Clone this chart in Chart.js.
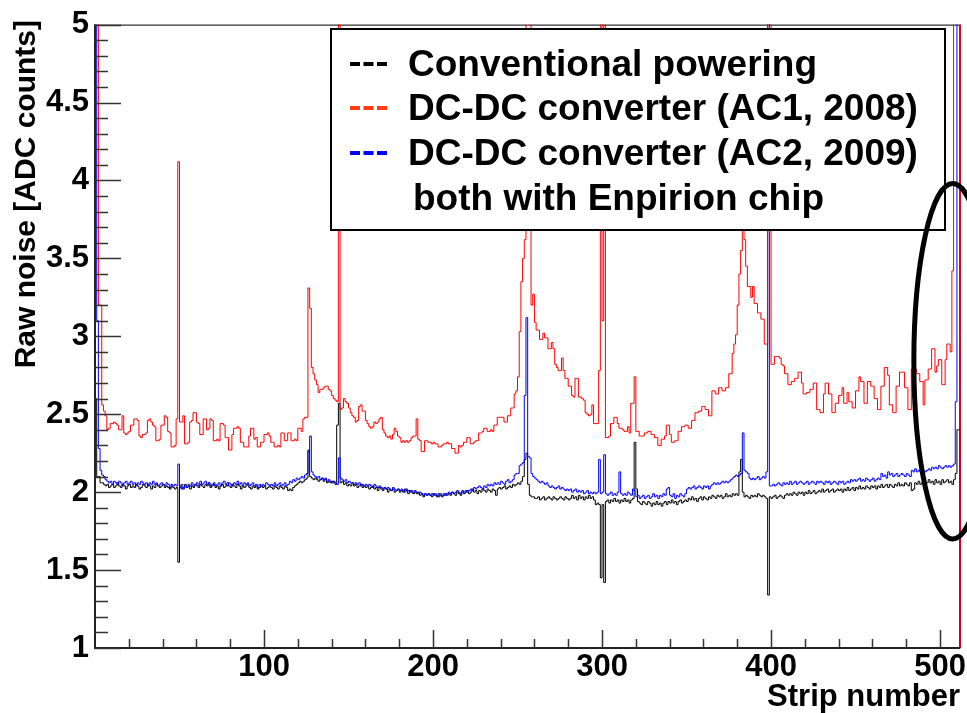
<!DOCTYPE html>
<html>
<head>
<meta charset="utf-8">
<script src="https://cdn.jsdelivr.net/npm/chart.js@4.4.1/dist/chart.umd.min.js"></script>
<style>
  html, body { margin: 0; padding: 0; background: #fff; }
</style>
</head>
<body>
<canvas id="myChart" width="967" height="713"></canvas>
<script>
var FONT = "'Liberation Sans', Arial, Helvetica, sans-serif";

var xTitle = 'Strip number';
var yTitle = 'Raw noise [ADC counts]';
var seriesNames = ['Conventional powering', 'DC-DC converter (AC1, 2008)', 'DC-DC converter (AC2, 2009)'];
var legendNote = 'both with Enpirion chip';
var xLabelTicks = [100, 200, 300, 400, 500];
var yLabelTicks = [1, 1.5, 2, 2.5, 3, 3.5, 4, 4.5, 5];

// raw noise per strip, strips 1..512
var conventional = [
  2.60, 2.10, 2.10, 2.06, 2.06, 2.05, 2.04, 2.05, 2.03, 2.04,
  2.05, 2.03, 2.04, 2.06, 2.04, 2.03, 2.05, 2.04, 2.02, 2.04,
  2.05, 2.03, 2.04, 2.03, 2.05, 2.04, 2.02, 2.03, 2.05, 2.04,
  2.03, 2.05, 2.04, 2.02, 2.04, 2.03, 2.05, 2.04, 2.03, 2.04,
  2.05, 2.03, 2.04, 2.03, 2.02, 2.04, 2.03, 2.02, 2.03, 1.55,
  2.04, 2.02, 2.03, 2.05, 2.03, 2.04, 2.02, 2.04, 2.03, 2.05,
  2.04, 2.03, 2.05, 2.04, 2.03, 2.05, 2.04, 2.06, 2.03, 2.04,
  2.05, 2.03, 2.04, 2.02, 2.04, 2.05, 2.03, 2.04, 2.06, 2.04,
  2.03, 2.05, 2.04, 2.03, 2.05, 2.04, 2.02, 2.04, 2.03, 2.04,
  2.05, 2.03, 2.02, 2.04, 2.03, 2.04, 2.02, 2.03, 2.04, 2.03,
  2.04, 2.02, 2.03, 2.04, 2.03, 2.02, 2.04, 2.03, 2.02, 2.04,
  2.03, 2.02, 2.04, 2.03, 2.01, 2.02, 2.01, 2.03, 2.04, 2.05,
  2.06, 2.07, 2.06, 2.07, 2.08, 2.09, 2.27, 2.10, 2.09, 2.08,
  2.09, 2.08, 2.07, 2.08, 2.09, 2.07, 2.08, 2.06, 2.07, 2.06,
  2.07, 2.06, 2.05, 2.43, 2.57, 2.06, 2.07, 2.05, 2.06, 2.04,
  2.05, 2.04, 2.06, 2.04, 2.05, 2.03, 2.04, 2.05, 2.03, 2.04,
  2.03, 2.04, 2.02, 2.03, 2.04, 2.02, 2.03, 2.01, 2.03, 2.02,
  2.01, 2.03, 2.02, 2.00, 2.02, 2.01, 2.02, 2.00, 2.01, 2.02,
  2.00, 2.01, 2.00, 2.02, 2.01, 1.99, 2.01, 2.00, 1.99, 2.00,
  1.99, 2.00, 1.98, 1.99, 1.97, 1.99, 1.98, 1.99, 1.98, 1.97,
  1.99, 1.98, 1.97, 1.99, 1.98, 1.97, 1.98, 1.99, 1.98, 1.99,
  1.98, 2.00, 1.99, 1.98, 2.00, 1.99, 1.98, 2.00, 1.99, 2.00,
  2.01, 1.99, 2.00, 2.02, 2.00, 2.01, 1.99, 2.01, 2.00, 2.02,
  2.01, 2.00, 2.02, 2.01, 2.00, 2.02, 2.01, 1.98, 2.02, 2.03,
  2.02, 2.03, 2.04, 2.02, 2.03, 2.04, 2.03, 2.05, 2.04, 2.05,
  2.06, 2.05, 2.07, 2.10, 2.21, 2.25, 2.05, 1.98, 1.97, 1.97,
  1.96, 1.96, 1.97, 1.95, 1.96, 1.97, 1.95, 1.96, 1.97, 1.96,
  1.95, 1.97, 1.96, 1.95, 1.96, 1.97, 1.96, 1.95, 1.97, 1.96,
  1.95, 1.96, 1.98, 1.96, 1.97, 1.95, 1.98, 1.96, 1.97, 1.95,
  1.97, 1.96, 1.98, 1.96, 1.97, 1.95, 1.92, 1.93, 1.92, 1.45,
  1.92, 1.42, 1.94, 1.95, 1.93, 1.95, 1.94, 1.96, 1.94, 1.95,
  1.93, 1.95, 1.94, 1.96, 1.94, 1.95, 1.93, 1.95, 1.96, 2.32,
  2.02, 1.94, 1.93, 1.92, 1.94, 1.93, 1.92, 1.94, 1.93, 1.91,
  1.93, 1.92, 1.94, 1.92, 1.93, 1.91, 1.93, 1.94, 1.92, 1.94,
  1.93, 1.95, 1.93, 1.94, 1.92, 1.94, 1.95, 1.93, 1.94, 1.95,
  1.94, 1.96, 1.95, 1.97, 1.95, 1.96, 1.94, 1.96, 1.97, 1.95,
  1.97, 1.96, 1.95, 1.97, 1.96, 1.98, 1.97, 1.96, 1.98, 1.97,
  1.98, 1.96, 1.97, 1.99, 1.97, 1.98, 1.97, 1.99, 1.98, 1.99,
  1.98, 2.13, 2.21, 2.00, 1.97, 1.98, 1.97, 1.96, 1.98, 1.97,
  1.98, 1.97, 1.99, 1.98, 1.97, 1.98, 1.97, 1.96, 1.34, 1.97,
  1.96, 1.97, 1.98, 1.96, 1.97, 1.98, 1.97, 1.96, 1.98, 1.99,
  1.98, 1.99, 1.98, 2.00, 1.99, 1.98, 2.00, 1.99, 2.00, 1.98,
  2.00, 1.99, 2.01, 1.99, 2.00, 2.01, 1.99, 2.00, 2.01, 2.00,
  2.02, 2.00, 2.01, 2.02, 2.00, 2.01, 2.02, 2.00, 2.01, 2.02,
  2.01, 2.02, 2.00, 2.02, 2.01, 2.03, 2.01, 2.02, 2.03, 2.01,
  2.03, 2.02, 2.04, 2.02, 2.03, 2.02, 2.04, 2.03, 2.02, 2.04,
  2.03, 2.04, 2.02, 2.04, 2.03, 2.05, 2.03, 2.04, 2.05, 2.03,
  2.05, 2.04, 2.03, 2.05, 2.04, 2.06, 2.04, 2.05, 2.04, 2.06,
  2.05, 2.04, 2.06, 2.01, 2.02, 2.06, 2.05, 2.07, 2.05, 2.06,
  2.07, 2.05, 2.06, 2.08, 2.06, 2.07, 2.05, 2.08, 2.06, 2.07,
  2.05, 2.08, 2.06, 2.07, 2.08, 2.06, 2.07, 2.05, 2.08, 2.12,
  2.40, 2.40
];

var ac1 = [
  6.5, 6.5, 3.2, 3.2, 2.56, 2.52, 2.49, 2.40, 2.41, 2.44,
  2.44, 2.45, 2.44, 2.43, 2.40, 2.40, 2.49, 2.38, 2.37, 2.38,
  2.39, 2.43, 2.43, 2.47, 2.47, 2.46, 2.36, 2.35, 2.37, 2.37,
  2.38, 2.46, 2.47, 2.45, 2.43, 2.42, 2.33, 2.33, 2.34, 2.43,
  2.43, 2.49, 2.48, 2.39, 2.38, 2.29, 2.29, 2.30, 2.47, 4.12,
  2.45, 2.45, 2.49, 2.31, 2.31, 2.32, 2.45, 2.46, 2.51, 2.51,
  2.45, 2.44, 2.37, 2.37, 2.47, 2.47, 2.40, 2.41, 2.47, 2.46,
  2.33, 2.33, 2.34, 2.33, 2.44, 2.44, 2.43, 2.35, 2.35, 2.27,
  2.27, 2.37, 2.41, 2.41, 2.42, 2.41, 2.32, 2.32, 2.29, 2.29,
  2.29, 2.36, 2.41, 2.41, 2.34, 2.35, 2.29, 2.29, 2.32, 2.32,
  2.37, 2.37, 2.38, 2.36, 2.32, 2.32, 2.29, 2.29, 2.30, 2.29,
  2.38, 2.38, 2.33, 2.33, 2.38, 2.38, 2.33, 2.33, 2.34, 2.33,
  2.41, 2.41, 2.39, 2.47, 2.48, 2.48, 3.31, 3.18, 2.80, 2.76,
  2.72, 2.69, 2.64, 2.66, 2.66, 2.67, 2.68, 2.68, 2.66, 2.65,
  2.62, 2.60, 2.59, 2.58, 6.0, 2.53, 2.54, 2.60, 2.58, 2.57,
  2.54, 2.51, 2.49, 2.48, 2.45, 2.46, 2.55, 2.56, 2.52, 2.52,
  2.46, 2.44, 2.42, 2.41, 2.42, 2.45, 2.44, 2.45, 2.47, 2.48,
  2.40, 2.38, 2.36, 2.35, 2.36, 2.34, 2.37, 2.41, 2.39, 2.36,
  2.35, 2.32, 2.33, 2.32, 2.33, 2.32, 2.33, 2.35, 2.36, 2.36,
  2.47, 2.34, 2.33, 2.26, 2.26, 2.33, 2.33, 2.32, 2.32, 2.31,
  2.32, 2.31, 2.31, 2.29, 2.29, 2.30, 2.31, 2.31, 2.32, 2.31,
  2.31, 2.28, 2.28, 2.25, 2.25, 2.30, 2.29, 2.30, 2.32, 2.32,
  2.35, 2.35, 2.31, 2.31, 2.32, 2.33, 2.33, 2.38, 2.38, 2.39,
  2.41, 2.41, 2.39, 2.39, 2.40, 2.39, 2.43, 2.43, 2.48, 2.48,
  2.48, 2.48, 2.45, 2.45, 2.49, 2.49, 2.54, 2.54, 2.63, 2.65,
  2.74, 3.03, 3.35, 3.50, 3.62, 6.0, 6.0, 6.0, 3.20, 3.27,
  3.09, 3.04, 3.04, 2.98, 2.98, 3.02, 2.99, 2.99, 2.92, 2.92,
  2.96, 2.92, 2.82, 2.80, 2.78, 2.78, 2.86, 2.78, 2.73, 2.73,
  2.68, 2.68, 2.62, 2.61, 2.73, 2.73, 2.61, 2.61, 2.60, 2.59,
  2.51, 2.50, 2.49, 2.50, 2.56, 2.44, 2.44, 2.44, 2.78, 6.0,
  3.10, 6.0, 2.35, 2.35, 2.36, 2.44, 2.44, 2.48, 2.48, 2.44,
  2.41, 2.41, 2.40, 2.39, 2.39, 2.42, 2.38, 2.57, 2.57, 2.74,
  2.39, 2.39, 2.36, 2.36, 2.36, 2.38, 2.38, 2.39, 2.39, 2.37,
  2.37, 2.35, 2.35, 2.30, 2.30, 2.34, 2.34, 2.36, 2.43, 2.43,
  2.37, 2.32, 2.32, 2.33, 2.33, 2.39, 2.39, 2.42, 2.42, 2.43,
  2.43, 2.41, 2.41, 2.46, 2.46, 2.51, 2.51, 2.52, 2.52, 2.55,
  2.55, 2.53, 2.53, 2.49, 2.49, 2.65, 2.65, 2.63, 2.63, 2.67,
  2.67, 2.65, 2.65, 2.67, 2.67, 2.76, 2.76, 2.89, 2.95, 3.01,
  3.20, 3.40, 3.55, 3.68, 3.62, 3.45, 3.32, 3.32, 3.25, 3.32,
  3.21, 3.21, 3.15, 3.15, 3.11, 3.11, 2.95, 2.95, 6.0, 6.0,
  2.82, 2.82, 2.87, 2.87, 2.87, 2.86, 2.82, 2.81, 2.76, 2.76,
  2.69, 2.69, 2.71, 2.71, 2.73, 2.73, 2.77, 2.77, 2.70, 2.63,
  2.63, 2.64, 2.64, 2.66, 2.66, 2.70, 2.70, 2.53, 2.53, 2.51,
  2.51, 2.63, 2.70, 2.70, 2.63, 2.63, 2.51, 2.51, 2.57, 2.57,
  2.62, 2.62, 2.67, 2.57, 2.57, 2.64, 2.58, 2.58, 2.54, 2.54,
  2.65, 2.65, 2.74, 2.71, 2.71, 2.57, 2.57, 2.71, 2.71, 2.68,
  2.68, 2.60, 2.60, 2.53, 2.53, 2.68, 2.68, 2.80, 2.80, 2.75,
  2.56, 2.56, 2.51, 2.51, 2.68, 2.68, 2.77, 2.77, 2.77, 2.67,
  2.67, 2.53, 2.53, 2.79, 2.79, 2.79, 2.76, 2.76, 2.71, 2.71,
  2.56, 2.72, 2.72, 2.79, 2.79, 2.92, 2.92, 2.77, 2.81, 2.85,
  2.85, 2.69, 2.69, 2.85, 2.95, 2.95, 2.90, 3.42, 6.0, 6.0,
  6.0, 6.0
];

var ac2 = [
  6.0, 3.10, 2.28, 2.14, 2.11, 2.10, 2.08, 2.07, 2.06, 2.07,
  2.05, 2.07, 2.06, 2.05, 2.07, 2.06, 2.04, 2.06, 2.07, 2.05,
  2.06, 2.07, 2.05, 2.06, 2.04, 2.06, 2.05, 2.07, 2.06, 2.05,
  2.06, 2.04, 2.06, 2.05, 2.07, 2.05, 2.06, 2.04, 2.05, 2.06,
  2.05, 2.04, 2.06, 2.05, 2.03, 2.05, 2.04, 2.05, 2.04, 2.18,
  2.03, 2.05, 2.02, 2.04, 2.03, 2.05, 2.04, 2.06, 2.04, 2.05,
  2.06, 2.04, 2.07, 2.05, 2.06, 2.07, 2.05, 2.06, 2.04, 2.05,
  2.06, 2.04, 2.05, 2.06, 2.04, 2.06, 2.07, 2.05, 2.04, 2.06,
  2.05, 2.04, 2.06, 2.05, 2.07, 2.05, 2.06, 2.04, 2.06, 2.05,
  2.06, 2.04, 2.05, 2.06, 2.04, 2.05, 2.03, 2.05, 2.04, 2.05,
  2.04, 2.06, 2.05, 2.04, 2.05, 2.04, 2.06, 2.04, 2.05, 2.06,
  2.04, 2.05, 2.06, 2.04, 2.05, 2.07, 2.06, 2.08, 2.07, 2.09,
  2.08, 2.09, 2.10, 2.09, 2.11, 2.12, 2.26, 2.36, 2.13, 2.11,
  2.10, 2.09, 2.10, 2.08, 2.09, 2.08, 2.09, 2.07, 2.08, 2.07,
  2.06, 2.07, 2.06, 2.05, 2.22, 2.09, 2.08, 2.07, 2.08, 2.06,
  2.07, 2.06, 2.06, 2.05, 2.06, 2.05, 2.06, 2.04, 2.05, 2.04,
  2.05, 2.04, 2.05, 2.04, 2.03, 2.05, 2.04, 2.03, 2.04, 2.03,
  2.02, 2.03, 2.02, 2.03, 2.02, 2.01, 2.03, 2.02, 2.01, 2.02,
  2.01, 2.02, 2.01, 2.00, 2.02, 2.01, 2.00, 2.01, 2.00, 2.01,
  2.00, 1.99, 2.00, 1.99, 1.98, 1.99, 1.98, 1.99, 1.98, 1.99,
  1.98, 1.99, 1.98, 1.97, 1.99, 1.98, 1.99, 1.98, 1.99, 2.00,
  1.99, 2.00, 1.99, 2.00, 2.01, 2.00, 1.99, 2.01, 2.00, 2.01,
  2.00, 2.01, 2.02, 2.01, 2.03, 2.02, 2.03, 2.04, 2.03, 2.02,
  2.04, 2.03, 2.05, 2.04, 2.05, 2.04, 2.06, 2.05, 2.06, 2.05,
  2.07, 2.06, 2.05, 2.07, 2.08, 2.06, 2.07, 2.08, 2.11, 2.12,
  2.12, 2.17, 2.18, 2.19, 2.62, 3.12, 2.23, 2.22, 2.12, 2.10,
  2.09, 2.08, 2.07, 2.06, 2.07, 2.06, 2.05, 2.06, 2.04, 2.03,
  2.04, 2.03, 2.02, 2.03, 2.04, 2.02, 2.03, 2.02, 2.01, 2.02,
  2.01, 2.02, 2.00, 2.01, 2.02, 2.00, 2.01, 2.00, 2.01, 1.99,
  2.00, 2.01, 1.99, 2.00, 1.99, 2.00, 1.99, 2.00, 2.21, 1.99,
  2.00, 2.24, 1.99, 1.98, 1.99, 2.00, 1.98, 1.99, 1.98, 2.00,
  2.13, 1.99, 1.98, 1.99, 1.98, 2.00, 1.99, 1.98, 2.02, 2.01,
  1.97, 1.98, 1.96, 1.97, 1.98, 1.96, 1.97, 1.98, 1.96, 1.97,
  1.99, 1.97, 1.98, 1.96, 1.98, 1.97, 1.99, 1.98, 2.02, 2.03,
  1.98, 1.97, 1.99, 1.96, 1.98, 1.97, 1.99, 1.98, 1.97, 1.99,
  2.02, 2.03, 2.02, 2.03, 2.04, 2.02, 2.03, 2.04, 2.03, 2.02,
  2.04, 2.03, 2.04, 2.02, 2.04, 2.05, 2.06, 2.05, 2.06, 2.05,
  2.06, 2.07, 2.06, 2.07, 2.06, 2.07, 2.08, 2.09, 2.10, 2.11,
  2.10, 2.11, 2.12, 2.38, 2.14, 2.13, 2.12, 2.09, 2.08, 2.09,
  2.08, 2.09, 2.10, 2.08, 2.09, 2.10, 2.09, 2.13, 6.0, 2.04,
  2.04, 2.05, 2.04, 2.05, 2.06, 2.05, 2.04, 2.06, 2.05, 2.06,
  2.05, 2.07, 2.05, 2.06, 2.07, 2.05, 2.06, 2.07, 2.06, 2.05,
  2.06, 2.07, 2.05, 2.06, 2.07, 2.06, 2.05, 2.07, 2.06, 2.07,
  2.06, 2.05, 2.07, 2.06, 2.07, 2.05, 2.06, 2.07, 2.06, 2.05,
  2.07, 2.06, 2.07, 2.05, 2.06, 2.07, 2.06, 2.08, 2.07, 2.08,
  2.07, 2.08, 2.09, 2.07, 2.08, 2.07, 2.09, 2.08, 2.07, 2.08,
  2.09, 2.07, 2.08, 2.09, 2.08, 2.12, 2.10, 2.11, 2.09, 2.13,
  2.11, 2.12, 2.10, 2.11, 2.12, 2.10, 2.11, 2.12, 2.11, 2.10,
  2.12, 2.11, 2.10, 2.14, 2.13, 2.15, 2.13, 2.14, 2.13, 2.15,
  2.14, 2.13, 2.14, 2.15, 2.14, 2.16, 2.15, 2.16, 2.15, 2.17,
  2.16, 2.15, 2.16, 2.17, 2.16, 2.17, 2.16, 2.17, 2.18, 2.58,
  6.0, 6.0
];

[conventional, ac1, ac2].forEach(function (a) {
    if (a.length !== 512) throw new Error('series length ' + a.length);
});

var yMin = 1, yMax = 5, nStrips = 512;

// histogram outline: value of strip i holds from i-1 to i, closed down to the frame at both ends
function histPoints(values) {
    var pts = [{x: 0, y: yMin}];
    for (var i = 0; i < values.length; i++) {
        pts.push({x: i, y: values[i]});
    }
    pts.push({x: values.length, y: values[values.length - 1]});
    pts.push({x: values.length, y: yMin});
    return pts;
}

function histSet(label, values, color, order) {
    return {
        label: label,
        data: histPoints(values),
        borderColor: color,
        borderWidth: 1,
        pointRadius: 0,
        stepped: true,
        fill: false,
        order: order,
        clip: {left: 1, right: 1, top: 0, bottom: 0}
    };
}

var rootFrame = {
    id: 'rootFrame',
    beforeDatasetsDraw: function (chart) {
        var c = chart.ctx, a = chart.chartArea;
        c.save();
        c.strokeStyle = '#000';
        c.lineWidth = 1;
        c.beginPath();
        c.moveTo(a.left, a.top + 0.5);
        c.lineTo(a.right - 0.5, a.top + 0.5);
        c.lineTo(a.right - 0.5, a.bottom);
        c.stroke();
        c.restore();
    },
    afterDatasetsDraw: function (chart) {
        var c = chart.ctx, a = chart.chartArea;
        var xs = chart.scales.x, ys = chart.scales.y;
        c.save();
        // axes
        c.strokeStyle = '#222';
        c.lineWidth = 2;
        c.beginPath();
        c.moveTo(a.left, a.top);
        c.lineTo(a.left, a.bottom);
        c.lineTo(a.right, a.bottom);
        c.stroke();
        // inward ticks
        c.lineWidth = 1.5;
        c.strokeStyle = '#333';
        c.beginPath();
        for (var k = 10; k <= 50; k++) {
            var py = Math.round(ys.getPixelForValue(k / 10)) + 0.5;
            var len = (k % 5 === 0) ? 26 : 13;
            c.moveTo(a.left, py);
            c.lineTo(a.left + len, py);
        }
        for (var s = 20; s <= 500; s += 20) {
            var px = Math.round(xs.getPixelForValue(s)) + 0.5;
            var tl = (s % 100 === 0) ? 18 : 9;
            c.moveTo(px, a.bottom);
            c.lineTo(px, a.bottom - tl);
        }
        c.stroke();

        // axis titles
        c.fillStyle = '#000';
        c.textAlign = 'right';
        c.textBaseline = 'alphabetic';
        c.font = 'bold 31px ' + FONT;
        c.fillText(xTitle, 960, 706);
        c.font = 'bold 30px ' + FONT;
        c.save();
        c.translate(35, 20);
        c.rotate(-Math.PI / 2);
        c.fillText(yTitle, 0, 0);
        c.restore();

        // legend box
        var bx = 331, by = 29, bw = 614, bh = 201;
        c.fillStyle = '#fff';
        c.fillRect(bx, by, bw, bh);
        c.lineWidth = 2;
        c.strokeStyle = '#000';
        c.strokeRect(bx, by, bw, bh);
        var colors = ['#000000', '#ff3c14', '#0000ff'];
        var rows = [76, 120, 165];
        c.font = 'bold 37px ' + FONT;
        c.textAlign = 'left';
        for (var r = 0; r < 3; r++) {
            c.strokeStyle = colors[r];
            c.lineWidth = 4;
            c.setLineDash([10, 3.5]);
            c.beginPath();
            c.moveTo(350, rows[r] - 12);
            c.lineTo(388, rows[r] - 12);
            c.stroke();
            c.setLineDash([]);
            c.fillStyle = '#000';
            c.fillText(seriesNames[r], 408, rows[r]);
        }
        c.fillText(legendNote, 413, 210);

        // ellipse around the last strips
        var cx = xs.getPixelForValue(507.5), cy = ys.getPixelForValue(2.84);
        var rx = cx - xs.getPixelForValue(484.5), ry = ys.getPixelForValue(1.70) - cy;
        c.strokeStyle = '#000';
        c.lineWidth = 5;
        c.beginPath();
        c.ellipse(cx, cy, rx, ry, 0, 0, Math.PI * 2);
        c.stroke();
        c.restore();
    }
};

var ctx = document.getElementById('myChart');
var myChart = new Chart(ctx, {
    type: 'line',
    data: {
        datasets: [
            histSet(seriesNames[1], ac1, '#ff0000', 0),
            histSet(seriesNames[2], ac2, '#0000ff', 1),
            histSet(seriesNames[0], conventional, '#000000', 2)
        ]
    },
    options: {
        responsive: false,
        animation: false,
        devicePixelRatio: 1,
        layout: { padding: { left: 0, right: 4, top: 19, bottom: 0 } },
        plugins: {
            legend: { display: false },
            tooltip: { enabled: false }
        },
        scales: {
            x: {
                type: 'linear',
                min: 0,
                max: nStrips,
                grid: { display: false, drawTicks: false },
                border: { display: false },
                afterFit: function (s) { s.height = 65; },
                ticks: {
                    stepSize: 100,
                    includeBounds: false,
                    autoSkip: false,
                    maxRotation: 0,
                    padding: 1,
                    color: '#000',
                    font: { family: FONT, size: 31, weight: 'bold' },
                    callback: function (v) { return xLabelTicks.indexOf(v) >= 0 ? String(v) : ''; }
                }
            },
            y: {
                type: 'linear',
                min: yMin,
                max: yMax,
                grid: { display: false, drawTicks: false },
                border: { display: false },
                afterFit: function (s) { s.width = 95; },
                ticks: {
                    stepSize: 0.5,
                    padding: 6,
                    color: '#000',
                    font: { family: FONT, size: 31, weight: 'bold' },
                    callback: function (v) { return yLabelTicks.indexOf(v) >= 0 ? String(v) : ''; }
                }
            }
        }
    },
    plugins: [rootFrame]
});
</script>
</body>
</html>
